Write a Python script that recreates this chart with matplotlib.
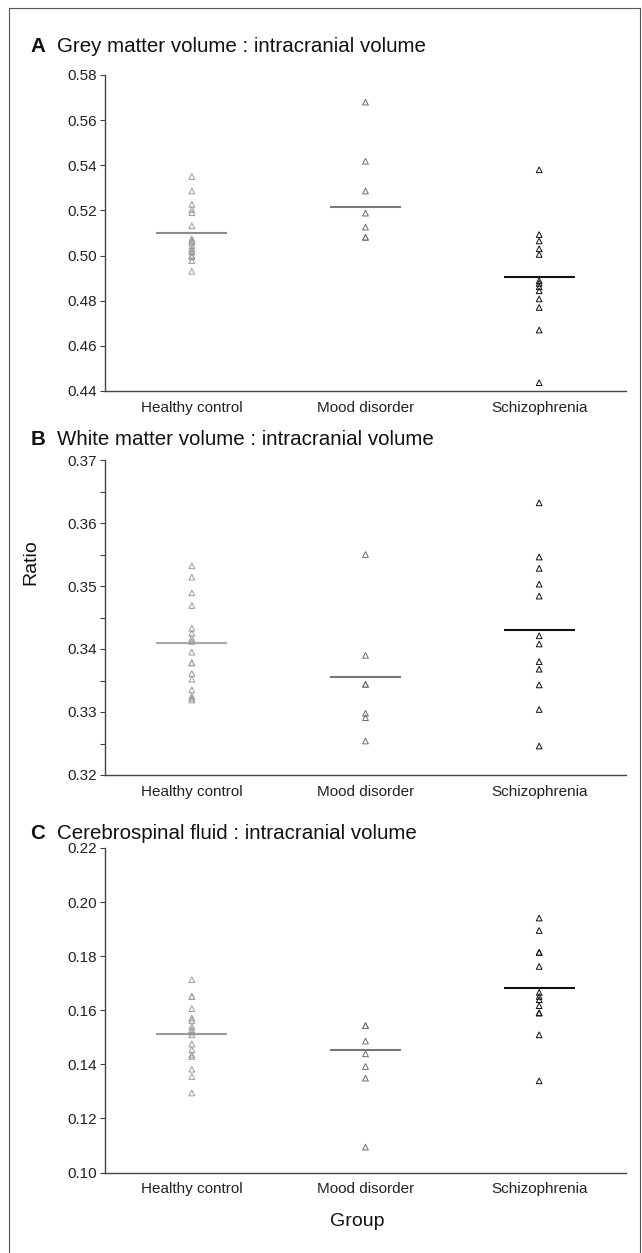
import matplotlib.pyplot as plt

plt.rcParams['font.family'] = ['Liberation Sans', 'DejaVu Sans']

groups = ["Healthy control", "Mood disorder", "Schizophrenia"]

# panel A: grey matter / ICV
hc_a = [0.535, 0.5286, 0.5227, 0.5204, 0.519, 0.5132, 0.5074, 0.5065, 0.5059,
        0.5044, 0.503, 0.5022, 0.5015, 0.500, 0.4995, 0.4978, 0.493]
md_a = [0.568, 0.5418, 0.5286, 0.5188, 0.5126, 0.5081, 0.5081]
sz_a = [0.538, 0.5093, 0.5065, 0.503, 0.5005, 0.4889, 0.4877, 0.4862, 0.4844,
        0.4808, 0.477, 0.467, 0.4437]
mean_a = [0.5099, 0.5215, 0.4904]

# panel B: white matter / ICV
hc_b = [0.3532, 0.3514, 0.3489, 0.3469, 0.3433, 0.3425, 0.3417, 0.3412, 0.3395,
        0.3378, 0.3378, 0.3361, 0.3352, 0.3335, 0.3325, 0.3322, 0.3319]
md_b = [0.355, 0.339, 0.3344, 0.3344, 0.3298, 0.3291, 0.3254]
sz_b = [0.3632, 0.3546, 0.3528, 0.3503, 0.3484, 0.3421, 0.3408, 0.338, 0.3368,
        0.3343, 0.3304, 0.3246]
mean_b = [0.3409, 0.3356, 0.343]

# panel C: CSF / ICV
hc_c = [0.1713, 0.1651, 0.1651, 0.1606, 0.1571, 0.1562, 0.154, 0.1528, 0.1519,
        0.1509, 0.1475, 0.1454, 0.1435, 0.1429, 0.1382, 0.1355, 0.1294]
md_c = [0.1543, 0.1543, 0.1486, 0.1439, 0.1392, 0.1349, 0.1094]
sz_c = [0.1941, 0.1895, 0.1814, 0.1814, 0.1762, 0.1666, 0.1651, 0.1639, 0.1617,
        0.159, 0.159, 0.1509, 0.1339]
mean_c = [0.1512, 0.1454, 0.1681]

panels = [
    ("A", "Grey matter volume : intracranial volume", [hc_a, md_a, sz_a], mean_a,
     (0.44, 0.58), 0.02, None, ["#8c8c8c", "#7a7a7a", "#111111"]),
    ("B", "White matter volume : intracranial volume", [hc_b, md_b, sz_b], mean_b,
     (0.32, 0.37), 0.01, 0.005, ["#a8a8a8", "#777777", "#111111"]),
    ("C", "Cerebrospinal fluid : intracranial volume", [hc_c, md_c, sz_c], mean_c,
     (0.10, 0.22), 0.02, None, ["#9a9a9a", "#777777", "#111111"]),
]
marker_colors = ["#9a9a9a", "#6e6e6e", "#111111"]

W, H = 642, 1253
fig = plt.figure(figsize=(W / 100, H / 100), dpi=100)

# axes boxes in pixels: (top, bottom), plus title baseline
boxes = [(75, 391, 52), (460, 775, 445), (848, 1172.5, 839)]
left_px, right_px = 105, 626

for (letter, title, vals, means, ylim, major, minor, lcols), (top, bot, tb) in zip(panels, boxes):
    ax = fig.add_axes([left_px / W, 1 - bot / H, (right_px - left_px) / W, (bot - top) / H])
    for i, v in enumerate(vals):
        ax.scatter([i] * len(v), v, marker="^", s=17, facecolors="none",
                   edgecolors=marker_colors[i], linewidths=0.7, zorder=3)
        ax.hlines(means[i], i - 0.205, i + 0.205, colors=lcols[i], lw=1.5, zorder=2)
    ax.set_xlim(-0.5, 2.5)
    ax.set_ylim(*ylim)
    ticks = [round(ylim[0] + k * major, 3) for k in range(int(round((ylim[1] - ylim[0]) / major)) + 1)]
    ax.set_yticks(ticks)
    ax.set_yticklabels([f"{t:.2f}" for t in ticks])
    if minor:
        ax.set_yticks([round(ylim[0] + k * minor, 4) for k in range(int(round((ylim[1] - ylim[0]) / minor)) + 1)],
                      minor=True)
        ax.tick_params(axis="y", which="minor", length=3.5, width=0.8, color="#444444")
    ax.set_xticks(range(3))
    ax.set_xticklabels(groups)
    for s in ["top", "right"]:
        ax.spines[s].set_visible(False)
    for s in ["left", "bottom"]:
        ax.spines[s].set_color("#444444")
        ax.spines[s].set_linewidth(1.0)
    ax.tick_params(axis="y", which="major", length=3.5, width=0.8, color="#444444",
                   labelsize=11, labelcolor="#222222", pad=2.5)
    ax.tick_params(axis="x", length=0, labelsize=11, labelcolor="#222222", pad=7)
    fig.text(30.5 / W, 1 - tb / H, letter, fontsize=14.8, fontweight="bold",
             color="#111111", va="baseline", ha="left")
    fig.text(57 / W, 1 - tb / H, title, fontsize=14.8, color="#111111",
             va="baseline", ha="left")

fig.text(31 / W, 1 - 562 / H, "Ratio", fontsize=14, rotation=90, color="#111111",
         ha="center", va="center")
fig.text(357 / W, 1 - 1222 / H, "Group", fontsize=14, color="#111111",
         ha="center", va="center")

# outer frame
fig.add_artist(plt.Line2D([9 / W, 9 / W], [0, 1 - 8 / H], transform=fig.transFigure,
                          color="#555555", lw=0.8))
fig.add_artist(plt.Line2D([9 / W, 640 / W], [1 - 8 / H, 1 - 8 / H], transform=fig.transFigure,
                          color="#555555", lw=0.8))
fig.add_artist(plt.Line2D([640 / W, 640 / W], [0, 1 - 8 / H], transform=fig.transFigure,
                          color="#555555", lw=0.8))

fig.savefig("out.png", dpi=100)
